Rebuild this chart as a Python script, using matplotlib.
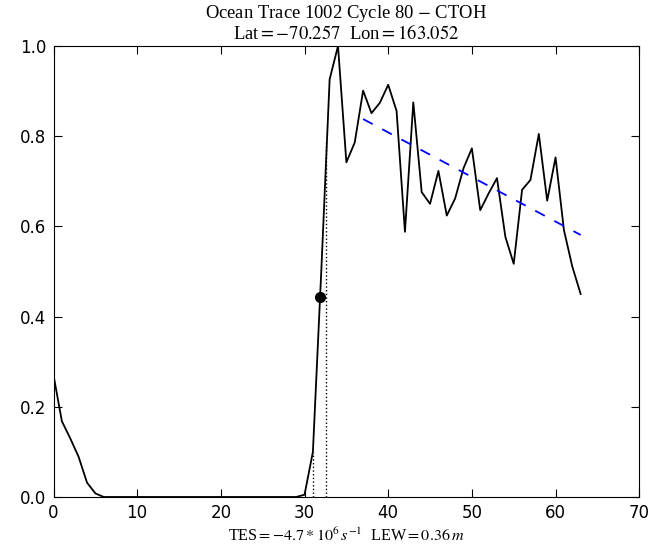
import matplotlib
matplotlib.use('Agg')
import matplotlib.pyplot as plt

# waveform samples (gate index -> normalised power)
gate = list(range(64))
power = [0.27, 0.168, 0.13, 0.089, 0.032, 0.008] + [0.0] * 24 + [
    0.005, 0.10, 0.50, 0.926, 1.0, 0.742, 0.786, 0.901, 0.851, 0.874,
    0.914, 0.856, 0.588, 0.875, 0.676, 0.650, 0.723, 0.624, 0.662, 0.729,
    0.773, 0.636, 0.673, 0.707, 0.577, 0.517, 0.681, 0.703, 0.805, 0.657,
    0.753, 0.592, 0.511, 0.45]

# trailing edge fit
fit_x = [37, 63]
fit_y = [0.838, 0.581]

# retracking point and dotted markers
rt_x = 31.88
rt_y = 0.444
vl_x = [31.0, 32.6]
vl_top = [0.10, 0.79]

plt.rcParams['mathtext.fontset'] = 'stix'
serif = ['Liberation Serif', 'DejaVu Serif']

fig = plt.figure(figsize=(6.59, 5.5), dpi=100)
ax = fig.add_axes([0.0812, 0.0964, 0.8888, 0.82])

ax.plot(gate, power, color='k', lw=1.3)
ax.plot(fit_x, fit_y, color='b', ls='--', lw=1.3, dashes=(6, 6))
for xv, top in zip(vl_x, vl_top):
    ax.plot([xv, xv], [0, top], color='k', ls=':', lw=1.0)
ax.plot([rt_x], [rt_y], 'o', color='k', ms=7)

ax.set_xlim(0, 70)
ax.set_ylim(0, 1.0)
ax.set_xticks(range(0, 71, 10))
ax.set_yticks([0, 0.2, 0.4, 0.6, 0.8, 1.0])
ax.set_yticklabels(['0.0', '0.2', '0.4', '0.6', '0.8', '1.0'])
ax.tick_params(direction='in', top=True, right=True, length=6, labelsize=12, pad=5)

# title lines and bottom label placed in figure coords
xc = 0.0812 + 0.8888 / 2
fig.text(xc, 0.9664, 'Ocean Trace 1002 Cycle 80 $-$ CTOH', ha='center', va='baseline',
         fontsize=13.4, family=serif)
fig.text(xc, 0.929, 'Lat$=-70.257$  Lon$=163.052$', ha='center', va='baseline',
         fontsize=13.4, family=serif)
fig.text(xc, 0.0164, 'TES$=-4.7*10^6\\,s^{-1}$  LEW$=0.36\\,m$', ha='center',
         va='baseline', fontsize=11.6, family=serif)

fig.savefig('out.png', dpi=100)
